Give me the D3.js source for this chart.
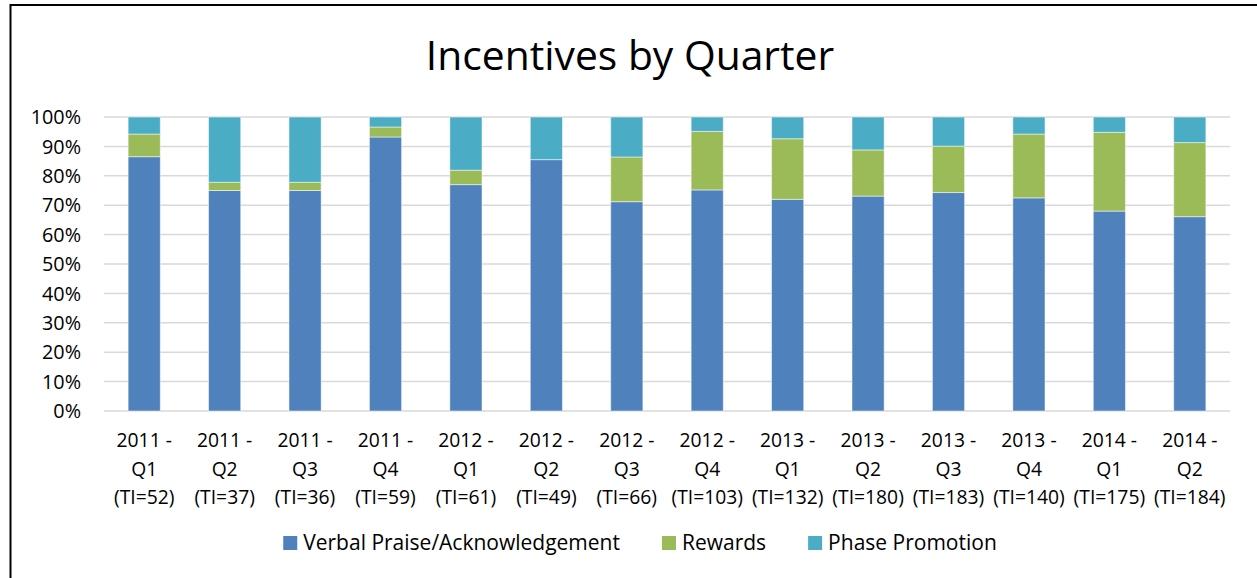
<!DOCTYPE html>
<html>
<head>
<meta charset="utf-8">
<title>Incentives by Quarter</title>
<script src="https://cdn.jsdelivr.net/npm/d3@7"></script>
<style>
	body { margin: 0; background: #fff; }
	#IncentivesChart text { font-family: "Open Sans", sans-serif; fill: #000; }
</style>
</head>
<body>
<div id="IncentivesChart"></div>
<script>
// quarters, split into the three lines shown under each bar
var quarters = ['2011 - Q1', '2011 - Q2', '2011 - Q3', '2011 - Q4',
                '2012 - Q1', '2012 - Q2', '2012 - Q3', '2012 - Q4',
                '2013 - Q1', '2013 - Q2', '2013 - Q3', '2013 - Q4',
                '2014 - Q1', '2014 - Q2'];
var totalIncentives = [52, 37, 36, 59, 61, 49, 66, 103, 132, 180, 183, 140, 175, 184];

// share of each incentive type, in percent
var verbalPraise   = [86.5, 75.0, 75.0, 93.2, 77.0, 85.5, 71.2, 75.2, 72.0, 73.1, 74.3, 72.5, 68.0, 66.1];
var rewards        = [ 7.7,  2.8,  2.8,  3.4,  4.9,  0.0, 15.2, 19.9, 20.6, 15.7, 15.8, 21.7, 26.8, 25.2];
var phasePromotion = [ 5.8, 22.2, 22.2,  3.4, 18.1, 14.5, 13.6,  4.9,  7.4, 11.2,  9.9,  5.8,  5.2,  8.7];

var seriesNames = ['Verbal Praise/Acknowledgement', 'Rewards', 'Phase Promotion'];
var yTicks = [0, 0.1, 0.2, 0.3, 0.4, 0.5, 0.6, 0.7, 0.8, 0.9, 1.0];

createIncentivesChart();

function createIncentivesChart()
{
	var width = 1257;
	var height = 578;

	var margin = { left: 104, right: 27, top: 117, bottom: 167 };

	var color = d3.scaleOrdinal()
		.domain(seriesNames)
		.range(['#4F81BD', '#9BBB59', '#4BACC6']);

	var dataset = quarters.map(function(q, i)
	{
		return {
			quarter: q,
			ti: totalIncentives[i],
			'Verbal Praise/Acknowledgement': verbalPraise[i] / 100,
			'Rewards': rewards[i] / 100,
			'Phase Promotion': phasePromotion[i] / 100
		};
	});

	var svg = d3.select('#IncentivesChart')
		.append('svg')
		.attr('width', width)
		.attr('height', height);

	// outer frame, right and bottom edges run off the picture
	svg.append('rect')
		.attr('x', 10.5)
		.attr('y', 5)
		.attr('width', 1400)
		.attr('height', 700)
		.attr('fill', 'none')
		.attr('stroke', '#000')
		.attr('stroke-width', 2);

	svg.append('text')
		.attr('x', 630)
		.attr('y', 70)
		.attr('text-anchor', 'middle')
		.style('font-size', '40.8px')
		.text('Incentives by Quarter');

	var x = d3.scaleBand()
		.domain(quarters)
		.range([margin.left, width - margin.right])
		.paddingInner(0.6)
		.paddingOuter(0.3);

	var y = d3.scaleLinear()
		.domain([0, 1])
		.range([height - margin.bottom, margin.top]);

	// gridlines
	svg.append('g')
		.selectAll('line')
		.data(yTicks)
		.enter()
		.append('line')
		.attr('x1', margin.left)
		.attr('x2', width - margin.right)
		.attr('y1', function(d) { return y(d); })
		.attr('y2', function(d) { return y(d); })
		.attr('stroke', '#D9D9D9')
		.attr('stroke-width', 1.5);

	var yAxis = d3.axisLeft(y)
		.tickValues(yTicks)
		.tickFormat(d3.format('.0%'))
		.tickSize(0)
		.tickPadding(0);

	var yG = svg.append('g')
		.attr('transform', 'translate(81,0)')
		.call(yAxis);
	yG.select('.domain').remove();
	yG.selectAll('text')
		.attr('dy', '0.34em')
		.style('font-size', '19.8px');

	var stack = d3.stack().keys(seriesNames);
	var layers = stack(dataset);

	svg.append('g')
		.selectAll('g')
		.data(layers)
		.enter()
		.append('g')
		.attr('fill', function(d) { return color(d.key); })
		.selectAll('rect')
		.data(function(d) { return d; })
		.enter()
		.append('rect')
		.attr('x', function(d) { return x(d.data.quarter); })
		.attr('width', x.bandwidth())
		.attr('y', function(d) { return y(d[1]); })
		.attr('height', function(d) { return y(d[0]) - y(d[1]); })
		.attr('stroke', '#fff')
		.attr('stroke-opacity', 0.5)
		.attr('stroke-width', 1);

	// category labels, three lines each
	var xLabels = svg.append('g')
		.selectAll('text')
		.data(dataset)
		.enter()
		.append('text')
		.attr('text-anchor', 'middle')
		.style('font-size', '19.3px')
		.attr('transform', function(d) { return 'translate(' + (x(d.quarter) + x.bandwidth() / 2) + ',447)'; });

	xLabels.append('tspan')
		.attr('x', 0)
		.attr('y', 0)
		.text(function(d) { return d.quarter.split(' - ')[0] + ' -'; });
	xLabels.append('tspan')
		.attr('x', 0)
		.attr('y', 28.5)
		.text(function(d) { return d.quarter.split(' - ')[1]; });
	xLabels.append('tspan')
		.attr('x', 0)
		.attr('y', 57)
		.text(function(d) { return '(TI=' + d.ti + ')'; });

	// legend
	var legendRectSize = 14;
	var legendSpacing = 6;
	var legendGap = 42;

	var legend = svg.append('g');
	var offset = 0;
	seriesNames.forEach(function(name)
	{
		var item = legend.append('g')
			.attr('transform', 'translate(' + offset + ',0)');
		item.append('rect')
			.attr('y', -legendRectSize / 2)
			.attr('width', legendRectSize)
			.attr('height', legendRectSize)
			.style('fill', color(name));
		var t = item.append('text')
			.attr('x', legendRectSize + legendSpacing)
			.attr('dy', '0.35em')
			.style('font-size', '21px')
			.text(name);
		offset += legendRectSize + legendSpacing + t.node().getComputedTextLength() + legendGap;
	});
	var legendWidth = offset - legendGap;
	legend.attr('transform', 'translate(' + (640 - legendWidth / 2) + ',543)');
}
</script>
</body>
</html>
